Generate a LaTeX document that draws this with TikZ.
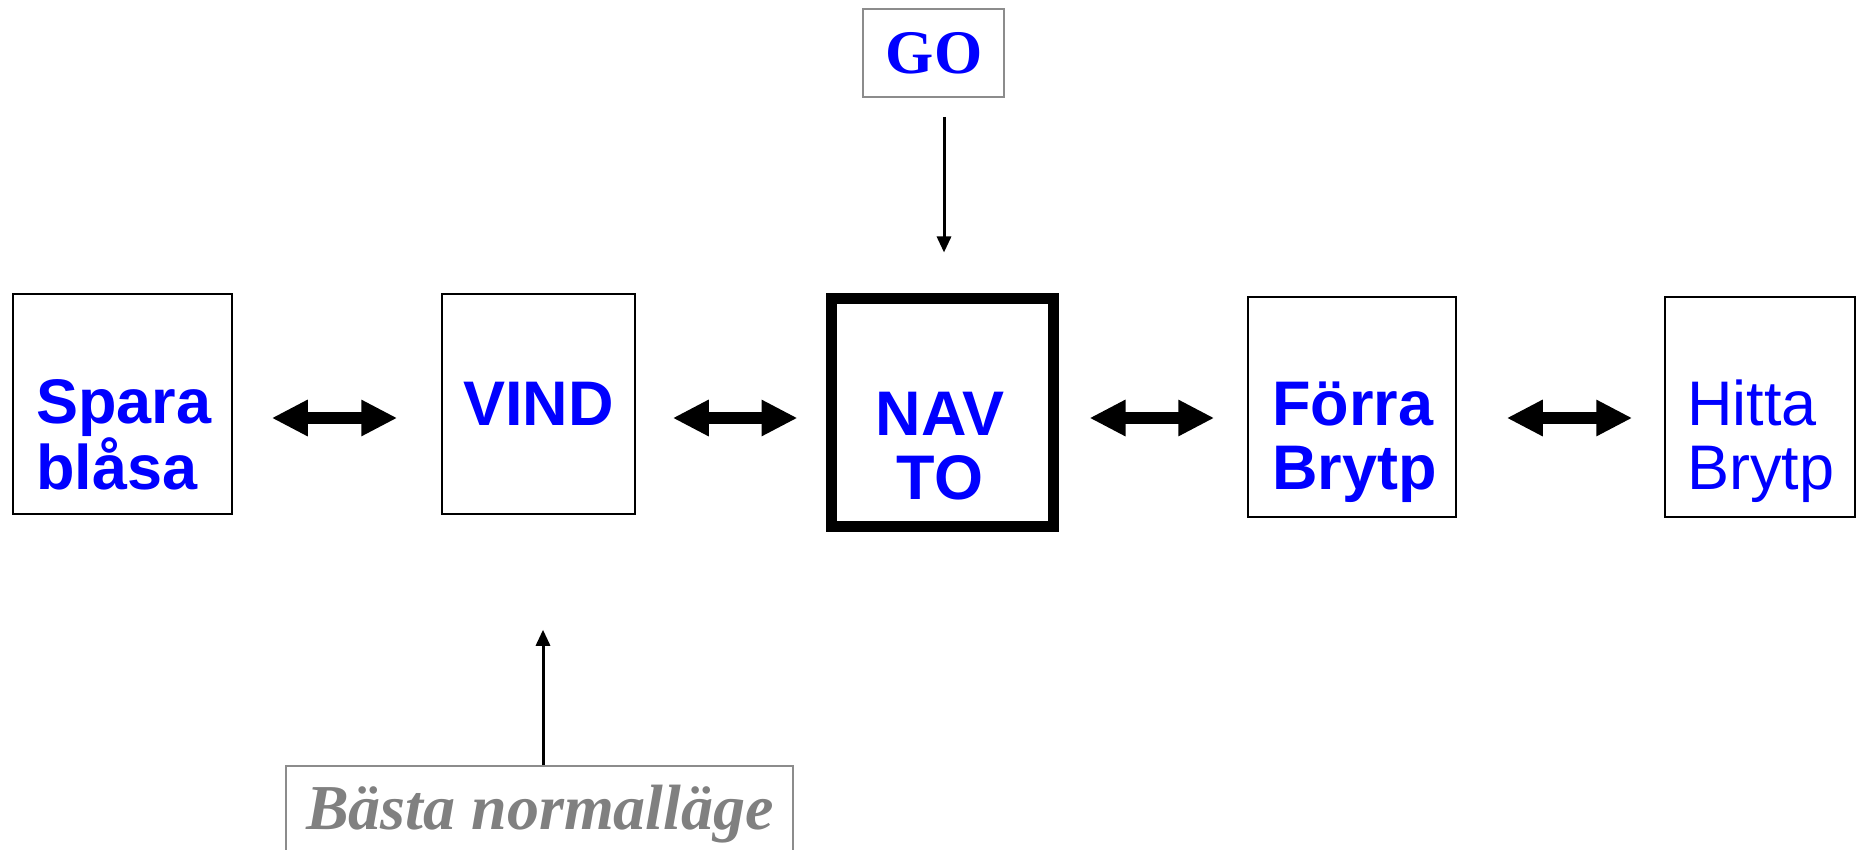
\documentclass[tikz,border=0pt]{standalone}
\usepackage{fontspec}
\setmainfont{Liberation Serif}
\newfontfamily\arial{Liberation Sans}
\usetikzlibrary{arrows.meta,calc}
\definecolor{bordergray}{RGB}{140,140,140}
\definecolor{textgray}{RGB}{128,128,128}
\tikzset{
  box/.style={draw=black, line width=1.5pt, rectangle, inner sep=0pt},
  boldbox/.style={draw=black, line width=11pt, rectangle, inner sep=0pt},
  graybox/.style={draw=bordergray, line width=2pt, rectangle, inner sep=0pt},
  boxtext/.style={inner sep=0pt, text=blue, font=\arial\bfseries\fontsize{63}{64}\selectfont},
  plaintext/.style={inner sep=0pt, text=blue, font=\arial\fontsize{63}{64}\selectfont},
  dblarrow/.style={line width=12pt, {Triangle[length=36pt,width=34pt]}-{Triangle[length=36pt,width=34pt]}},
  thinarrow/.style={line width=3pt, -{Triangle[length=16pt,width=14pt]}}
}
\begin{document}
\begin{tikzpicture}[x=1pt,y=-1pt]
\useasboundingbox (0,0) rectangle (1862,850);
% boxes
\node[box, minimum width=219pt, minimum height=220pt] (spara) at (122.5,404) {};
\node[box, minimum width=193pt, minimum height=220pt] (vind) at (538.5,404) {};
\node[boldbox, minimum width=222pt, minimum height=228pt] (nav) at (942,412) {};
\node[box, minimum width=208pt, minimum height=220pt] (forra) at (1352,407) {};
\node[box, minimum width=190pt, minimum height=220pt] (hitta) at (1760,407) {};
\node[graybox, minimum width=141pt, minimum height=88pt] (go) at (933.5,53) {};
\node[graybox, minimum width=507pt, minimum height=140pt] (best) at (539.5,836) {};
% texts (base anchor = baseline of last line)
\node[boxtext, align=left, anchor=base west] (sparatext) at (36,489) {Spara\\blåsa};
\node[boxtext, anchor=base] (vindtext) at (538.5,425) {VIND};
\node[boxtext, align=center, anchor=base] (navtext) at (940,499) {NAV\\TO};
\node[boxtext, align=left, anchor=base west] (forratext) at (1272,489) {Förra\\Brytp};
\node[plaintext, align=left, anchor=base west] (hittatext) at (1687,489) {Hitta\\Brytp};
\node[inner sep=0pt, text=blue, font=\bfseries\fontsize{62}{64}\selectfont, anchor=base] (gotext) at (934,74) {GO};
\node[inner sep=0pt, text=textgray, font=\bfseries\itshape\fontsize{64}{66}\selectfont, anchor=base west] (besttext) at (306,829) {Bästa normalläge};
% connectors
\draw[dblarrow, shorten <=39pt, shorten >=44pt] ($(spara.east)+(0,14)$) -- ($(vind.west)+(0,14)$);
\draw[dblarrow, shorten <=37pt, shorten >=28pt] ($(vind.east)+(0,14)$) -- ($(nav.west)+(0,6)$);
\draw[dblarrow, shorten <=31pt, shorten >=33pt] ($(nav.east)+(0,6)$) -- ($(forra.west)+(0,11)$);
\draw[dblarrow, shorten <=50pt, shorten >=32pt] ($(forra.east)+(0,11)$) -- ($(hitta.west)+(0,11)$);
\draw[thinarrow, shorten <=19pt, shorten >=40pt] ([xshift=10.5pt]go.south) -- ([xshift=2pt]nav.north);
\draw[thinarrow, shorten >=115pt] ([xshift=3.5pt]best.north) -- ([xshift=4.5pt]vind.south);
\end{tikzpicture}
\end{document}
